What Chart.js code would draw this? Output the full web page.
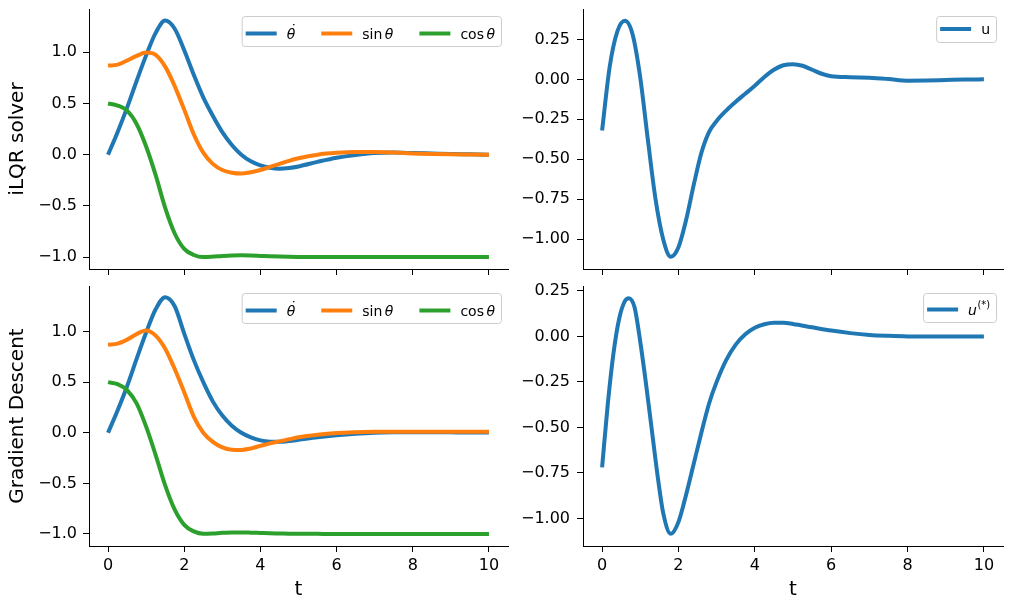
<!DOCTYPE html>
<html>
<head>
<meta charset="utf-8">
<script src="https://cdn.jsdelivr.net/npm/chart.js@4.4.1/dist/chart.umd.min.js"></script>
<style>
    html, body { margin: 0; padding: 0; background: #fff; }
    #fig { position: relative; width: 1011px; height: 611px; overflow: hidden; }
    canvas { position: absolute; }
</style>
</head>
<body>
<div id="fig">
    <canvas id="ilqrState" width="520" height="285" style="left:0;top:0"></canvas>
    <canvas id="ilqrControl" width="501" height="285" style="left:510px;top:0"></canvas>
    <canvas id="gdState" width="520" height="331" style="left:0;top:280px"></canvas>
    <canvas id="gdControl" width="501" height="331" style="left:510px;top:280px"></canvas>
</div>
<script>
// ======================
// DATA
// ======================
const tState = [0, 0.25, 0.5, 0.75, 1, 1.25, 1.5, 1.75, 2, 2.25, 2.5, 2.75, 3, 3.25, 3.5, 3.75,
    4, 4.25, 4.5, 4.75, 5, 5.5, 6, 6.5, 7, 7.5, 8, 8.5, 9, 9.5, 10];

const ilqrThetaDot = [0, 0.22, 0.46, 0.72, 0.97, 1.19, 1.31, 1.23, 1.02, 0.78, 0.56, 0.38, 0.22, 0.095, 0.0, -0.065,
    -0.105, -0.128, -0.137, -0.13, -0.115, -0.07, -0.03, -0.003, 0.015, 0.02, 0.016, 0.011, 0.006, 0.003, 0.0];
const ilqrSin = [0.87, 0.88, 0.92, 0.965, 0.997, 0.975, 0.86, 0.67, 0.44, 0.2, 0.02, -0.09, -0.15, -0.177, -0.185, -0.172,
    -0.15, -0.12, -0.09, -0.06, -0.035, 0.0, 0.018, 0.025, 0.025, 0.02, 0.012, 0.007, 0.004, 0.002, 0.0];
const ilqrCos = [0.5, 0.48, 0.43, 0.30, 0.08, -0.2, -0.52, -0.77, -0.92, -0.98, -1.0, -0.996, -0.989, -0.984, -0.983, -0.985,
    -0.989, -0.993, -0.996, -0.998, -0.999, -1, -1, -1, -1, -1, -1, -1, -1, -1, -1];

const gdThetaDot = [0, 0.22, 0.46, 0.73, 0.99, 1.22, 1.34, 1.25, 0.98, 0.72, 0.50, 0.31, 0.17, 0.07, 0.0, -0.045,
    -0.075, -0.088, -0.09, -0.082, -0.07, -0.045, -0.025, -0.01, 0.0, 0.004, 0.005, 0.005, 0.004, 0.003, 0.003];
const gdSin = [0.87, 0.88, 0.92, 0.975, 1.01, 0.96, 0.83, 0.63, 0.40, 0.16, 0.0, -0.09, -0.145, -0.168, -0.17, -0.155,
    -0.13, -0.105, -0.085, -0.065, -0.045, -0.02, -0.003, 0.005, 0.009, 0.01, 0.01, 0.01, 0.01, 0.01, 0.01];
const gdCos = [0.5, 0.48, 0.42, 0.29, 0.06, -0.22, -0.52, -0.76, -0.91, -0.975, -0.998, -0.995, -0.989, -0.986, -0.985, -0.987,
    -0.99, -0.993, -0.995, -0.997, -0.998, -0.999, -1, -1, -1, -1, -1, -1, -1, -1, -1];

const tU = [0, 0.2, 0.4, 0.6, 0.8, 1.0, 1.2, 1.4, 1.6, 1.8, 2.0, 2.2, 2.4, 2.6, 2.8, 3.0,
    3.25, 3.5, 3.75, 4.0, 4.25, 4.5, 4.75, 5.0, 5.25, 5.5, 5.75, 6.0, 6.5, 7.0, 7.5, 8.0, 8.5, 9.0, 9.5, 10];
const ilqrU = [-0.32, 0.08, 0.30, 0.366, 0.28, 0.01, -0.38, -0.75, -1.0, -1.11, -1.05, -0.88, -0.66, -0.46, -0.33, -0.26,
    -0.195, -0.14, -0.09, -0.04, 0.015, 0.06, 0.088, 0.095, 0.085, 0.06, 0.035, 0.02, 0.013, 0.01, 0.002, -0.008, -0.007, -0.004, -0.001, 0.0];

const tUStar = [0, 0.15, 0.3, 0.45, 0.6, 0.7, 0.85, 1.0, 1.15, 1.3, 1.45, 1.6, 1.8, 2.0, 2.2,
    2.4, 2.6, 2.8, 3.0, 3.25, 3.5, 3.75, 4.0, 4.25, 4.5, 4.75, 5.0, 5.5, 6.0, 6.5, 7.0, 7.5, 8.0, 9.0, 10];
const gdU = [-0.72, -0.37, -0.09, 0.10, 0.195, 0.21, 0.16, -0.03, -0.26, -0.51, -0.76, -0.97, -1.085, -1.02, -0.87,
    -0.70, -0.53, -0.37, -0.25, -0.13, -0.045, 0.012, 0.048, 0.067, 0.075, 0.075, 0.068, 0.05, 0.032, 0.018, 0.008, 0.003, 0.0, -0.001, 0.0];

const xTicksStep = 2;
const rowTitles = ['iLQR solver', 'Gradient Descent'];
const xTitle = 't';

// legend texts, split in pieces (it = italic math, sup = superscript, dot = dot accent)
const stateLegend = [
    [{ t: 'θ', it: true, dot: true }],
    [{ t: 'sin', it: false }, { t: 'θ', it: true, gap: 2.5 }],
    [{ t: 'cos', it: false }, { t: 'θ', it: true, gap: 2.5 }]
];
const uLegend = [[{ t: 'u', it: false }]];
const uStarLegend = [[{ t: 'u', it: true }, { t: '(*)', sup: true, gap: 0.5 }]];

const colors = ['#1f77b4', '#ff7f0e', '#2ca02c'];
const FONT = '"DejaVu Sans", sans-serif';

// ======================
// LEGEND (matplotlib-like box inside the axes)
// ======================
const boxLegend = {
    id: 'boxLegend',
    afterDatasetsDraw(chart, args, opts) {
        if (!opts.items) return;
        const ctx = chart.ctx;
        const size = 14;
        const handle = 31, textPad = 10, colSpace = 26, padL = 4, padR = 6;

        function partFont(p) {
            const s = p.sup ? size * 0.7 : size;
            return (p.it ? 'italic ' : '') + s + 'px ' + FONT;
        }
        function labelWidth(parts) {
            let w = 0;
            parts.forEach(p => {
                ctx.font = partFont(p);
                w += (p.gap || 0) + ctx.measureText(p.t).width;
            });
            return w;
        }

        ctx.save();
        let width = padL + padR;
        opts.items.forEach((parts, i) => {
            width += handle + textPad + labelWidth(parts);
            if (i > 0) width += colSpace;
        });
        const h = opts.height;
        const right = chart.chartArea.right - 7;
        const top = chart.chartArea.top + 7;
        const left = right - width;

        ctx.beginPath();
        ctx.roundRect(left + 0.5, top + 0.5, width, h, 3);
        ctx.fillStyle = 'rgba(255,255,255,0.8)';
        ctx.fill();
        ctx.strokeStyle = '#cccccc';
        ctx.lineWidth = 1;
        ctx.stroke();

        const cy = top + h / 2 + (opts.shift || 0);
        let x = left + padL;
        opts.items.forEach((parts, i) => {
            ctx.beginPath();
            ctx.moveTo(x, cy);
            ctx.lineTo(x + handle, cy);
            ctx.strokeStyle = chart.data.datasets[i].borderColor;
            ctx.lineWidth = 4;
            ctx.lineCap = 'butt';
            ctx.stroke();
            x += handle + textPad;

            ctx.fillStyle = '#000';
            ctx.textBaseline = 'alphabetic';
            ctx.textAlign = 'left';
            parts.forEach(p => {
                x += p.gap || 0;
                ctx.font = partFont(p);
                const base = cy + size * 0.36 - (p.sup ? size * 0.45 : 0);
                const w = ctx.measureText(p.t).width;
                ctx.fillText(p.t, x, base);
                if (p.dot) {
                    // accent dot over the theta
                    ctx.textAlign = 'center';
                    ctx.fillText('˙', x + w / 2 + 1.5, base - size * 0.22);
                    ctx.textAlign = 'left';
                }
                x += w;
            });
            x += colSpace;
        });
        ctx.restore();
    }
};

// ======================
// CHARTS
// ======================
function fmt(decimals) {
    return v => {
        const r = Math.round(v * 1000) / 1000;
        return (r < 0 ? '−' : '') + Math.abs(r).toFixed(decimals);
    };
}

// fixed axis sizes, no extra label padding pushing the plot area
function fixSize(key, size) {
    return s => {
        s[key] = size;
        s.paddingTop = 0;
        s.paddingBottom = 0;
        s.paddingLeft = 0;
        s.paddingRight = 0;
    };
}

function makeChart(id, cfg) {
    const datasets = cfg.series.map((s, i) => ({
        label: 'series' + i,
        data: s.t.map((t, k) => ({ x: t, y: s.y[k] })),
        borderColor: colors[i],
        borderWidth: 4,
        pointRadius: 0,
        fill: false,
        cubicInterpolationMode: 'monotone',
        order: cfg.series.length - i
    }));

    const axisLine = { drawOnChartArea: false, color: '#000', tickLength: 6, tickWidth: 1 };

    return new Chart(document.getElementById(id), {
        type: 'line',
        data: { datasets },
        plugins: [boxLegend],
        options: {
            responsive: false,
            animation: false,
            events: [],
            layout: { padding: { top: cfg.padTop, right: cfg.padRight, left: 0, bottom: 0 } },
            plugins: {
                legend: { display: false },
                tooltip: { enabled: false },
                boxLegend: { items: cfg.legend, height: cfg.legendHeight, shift: cfg.legendShift }
            },
            scales: {
                x: {
                    type: 'linear',
                    min: -0.5,
                    max: 10.5,
                    afterFit: fixSize('height', cfg.xHeight),
                    grid: axisLine,
                    border: { color: '#000', width: 1 },
                    ticks: {
                        display: cfg.showX,
                        stepSize: xTicksStep,
                        includeBounds: false,
                        autoSkip: false,
                        maxRotation: 0,
                        padding: 4,
                        color: '#000',
                        font: { family: FONT, size: 16 },
                        callback: v => String(v)
                    },
                    title: {
                        display: cfg.showX,
                        text: xTitle,
                        color: '#000',
                        font: { family: FONT, size: 20 },
                        padding: { top: 0, bottom: 9 }
                    }
                },
                y: {
                    type: 'linear',
                    min: cfg.yMin,
                    max: cfg.yMax,
                    afterFit: fixSize('width', cfg.yWidth),
                    grid: axisLine,
                    border: { color: '#000', width: 1 },
                    ticks: {
                        stepSize: cfg.yStep,
                        includeBounds: false,
                        autoSkip: false,
                        padding: cfg.yPad,
                        color: '#000',
                        font: { family: FONT, size: 16 },
                        callback: fmt(cfg.yDecimals)
                    },
                    title: {
                        display: !!cfg.yTitle,
                        text: cfg.yTitle || '',
                        color: '#000',
                        font: { family: FONT, size: 20 },
                        padding: { top: 6, bottom: 0 }
                    }
                }
            }
        }
    });
}

makeChart('ilqrState', {
    series: [{ t: tState, y: ilqrThetaDot }, { t: tState, y: ilqrSin }, { t: tState, y: ilqrCos }],
    padTop: 9, padRight: 12, xHeight: 16, yWidth: 89, yPad: 6,
    yMin: -1.117, yMax: 1.423, yStep: 0.5, yDecimals: 1,
    yTitle: rowTitles[0], showX: false,
    legend: stateLegend, legendHeight: 30, legendShift: 2.5
});

makeChart('ilqrControl', {
    series: [{ t: tU, y: ilqrU }],
    padTop: 9, padRight: 8, xHeight: 16, yWidth: 73, yPad: 7,
    yMin: -1.186, yMax: 0.44, yStep: 0.25, yDecimals: 2,
    yTitle: null, showX: false,
    legend: uLegend, legendHeight: 26, legendShift: 0
});

makeChart('gdState', {
    series: [{ t: tState, y: gdThetaDot }, { t: tState, y: gdSin }, { t: tState, y: gdCos }],
    padTop: 6, padRight: 12, xHeight: 65, yWidth: 89, yPad: 6,
    yMin: -1.119, yMax: 1.45, yStep: 0.5, yDecimals: 1,
    yTitle: rowTitles[1], showX: true,
    legend: stateLegend, legendHeight: 30, legendShift: 2.5
});

makeChart('gdControl', {
    series: [{ t: tUStar, y: gdU }],
    padTop: 6, padRight: 8, xHeight: 65, yWidth: 73, yPad: 7,
    yMin: -1.152, yMax: 0.277, yStep: 0.25, yDecimals: 2,
    yTitle: null, showX: true,
    legend: uStarLegend, legendHeight: 29, legendShift: 2
});
</script>
</body>
</html>
